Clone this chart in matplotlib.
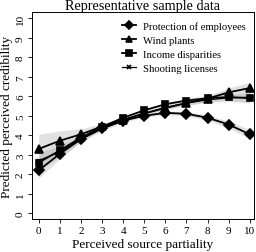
import numpy as np
import matplotlib
matplotlib.use('Agg')
import matplotlib.pyplot as plt

plt.rcParams['font.family'] = ['Liberation Serif', 'DejaVu Serif']

# perceived source partiality
partiality = np.arange(0, 11)

# predicted credibility per topic
protection = [2.2, 3.05, 3.8, 4.35, 4.75, 5.0, 5.15, 5.1, 4.9, 4.55, 4.05]
wind = [3.3, 3.72, 4.05, 4.45, 4.8, 5.12, 5.4, 5.65, 5.88, 6.2, 6.42]
income = [2.6, 3.22, 3.88, 4.43, 4.9, 5.28, 5.59, 5.78, 5.9, 5.96, 5.9]
shooting = [2.7, 3.15, 3.82, 4.35, 4.75, 5.12, 5.42, 5.65, 5.82, 5.92, 5.95]

# half widths of the confidence bands
protection_ci = [0.4, 0.25, 0.14, 0.09, 0.08, 0.08, 0.09, 0.11, 0.14, 0.18, 0.24]
wind_ci = [0.75, 0.5, 0.28, 0.14, 0.09, 0.08, 0.09, 0.12, 0.16, 0.22, 0.3]
income_ci = [0.45, 0.28, 0.15, 0.09, 0.08, 0.08, 0.09, 0.11, 0.14, 0.18, 0.25]
shooting_ci = [0.45, 0.28, 0.15, 0.09, 0.08, 0.08, 0.09, 0.11, 0.14, 0.18, 0.25]

series = [
    ('Protection of employees', protection, protection_ci, 'D', 5, 1.3),
    ('Wind plants', wind, wind_ci, '^', 5.5, 1.3),
    ('Income disparities', income, income_ci, 's', 5, 1.3),
    ('Shooting licenses', shooting, shooting_ci, 'x', 3.5, 0.9),
]

fig = plt.figure(figsize=(2.56, 2.53), dpi=100)
ax = fig.add_axes([0.125, 0.130, 0.867, 0.817])

for label, vals, ci, mk, ms, lw in series:
    vals = np.array(vals)
    ci = np.array(ci)
    ax.fill_between(partiality, vals - ci, vals + ci, color='#c4c4c4',
                    alpha=0.5, lw=0, zorder=1)

for label, vals, ci, mk, ms, lw in series:
    ax.plot(partiality, vals, color='black', marker=mk, markersize=ms,
            lw=lw, mew=1.2, label=label, zorder=3)

ax.set_xlim(-0.32, 10.2)
ax.set_ylim(-0.3, 10.3)
ax.set_xticks(partiality)
ax.set_yticks(range(0, 11))
ax.tick_params(labelsize=8, length=3, width=0.6, pad=2)
for t in ax.get_yticklabels():
    t.set_rotation(90)
    t.set_va('center')
for s in ax.spines.values():
    s.set_linewidth(0.7)

ax.set_title('Representative sample data', fontsize=10.3, pad=1.5)
ax.set_xlabel('Perceived source partiality', fontsize=9.5, labelpad=2)
ax.set_ylabel('Predicted perceived credibility', fontsize=9.5, labelpad=2)

ax.legend(loc='upper right', frameon=False, fontsize=7.7, handlelength=1.3,
          labelspacing=0.42, borderaxespad=0.4, handletextpad=0.6,
          markerscale=0.75, bbox_to_anchor=(1.0, 1.0))

fig.savefig('out.png', dpi=100)
